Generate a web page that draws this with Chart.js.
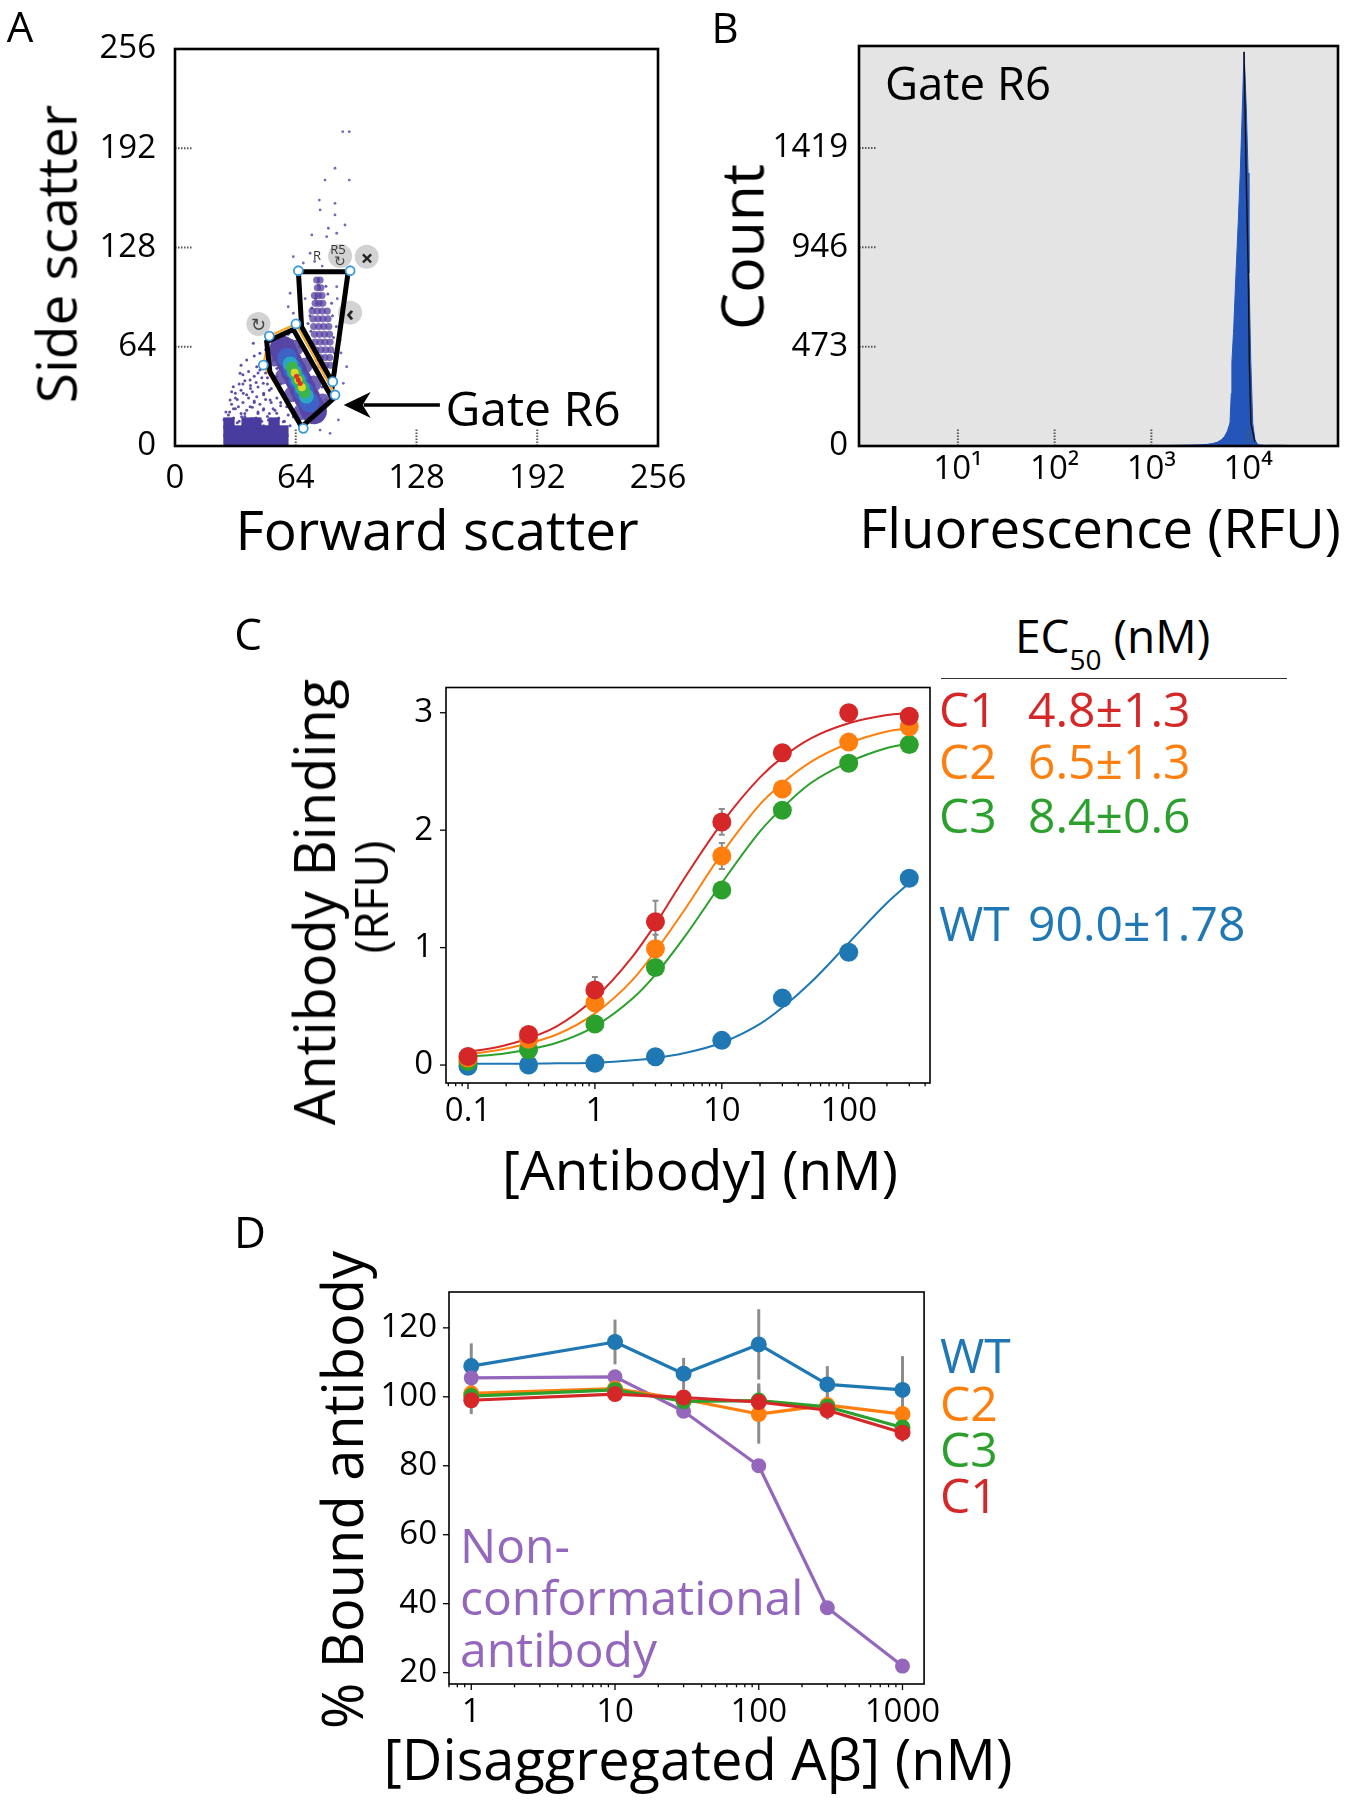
<!DOCTYPE html>
<html><head><meta charset="utf-8">
<script src="https://cdn.jsdelivr.net/npm/chart.js@4.4.1/dist/chart.umd.min.js"></script>
<style>
html,body{margin:0;padding:0;background:#fff;}
#page{position:relative;width:1348px;height:1800px;overflow:hidden;font-family:'Open Sans',sans-serif;}
canvas{position:absolute;}
.t{position:absolute;line-height:1;white-space:nowrap;color:#000;font-family:'Open Sans',sans-serif;}
.c{transform:translate(-50%,-50%);}
.l{transform:translateY(-50%);}
.r{transform:translate(-50%,-50%) rotate(-90deg);}
</style></head>
<body><div id="page">
<canvas id="cA" width="700" height="520" style="left:0;top:0"></canvas>
<canvas id="cB" width="668" height="520" style="left:680px;top:0"></canvas>
<canvas id="cC" width="720" height="560" style="left:230px;top:600px"></canvas>
<canvas id="cD" width="720" height="560" style="left:230px;top:1220px"></canvas>

<div class="t c" style="left:20px;top:26px;font-size:42px">A</div>
<div class="t c" style="left:725px;top:27px;font-size:42px">B</div>
<div class="t c" style="left:248px;top:633px;font-size:44px">C</div>
<div class="t c" style="left:250px;top:1231px;font-size:44px">D</div>

<div class="t r" style="left:55px;top:254px;font-size:55px">Side scatter</div>
<div class="t c" style="left:437px;top:528px;font-size:55px">Forward scatter</div>
<div class="t c" style="left:533px;top:408px;font-size:48px">Gate R6</div>
<div class="t c" style="left:258px;top:324px;font-size:18px;color:#444">↻</div>
<div class="t c" style="left:317px;top:255px;font-size:13px;color:#333">R</div>
<div class="t c" style="left:338px;top:249px;font-size:13px;color:#333">R5</div>
<div class="t c" style="left:340px;top:261px;font-size:14px;color:#444">↻</div>
<div class="t c" style="left:367px;top:257px;font-size:22px;color:#222;font-weight:bold">×</div>
<div class="t c" style="left:350px;top:312px;font-size:22px;color:#222;font-weight:bold">‹</div>

<div class="t r" style="left:741px;top:247px;font-size:59px">Count</div>
<div class="t c" style="left:1100px;top:527px;font-size:54.5px">Fluorescence (RFU)</div>
<div class="t c" style="left:968px;top:83px;font-size:45.5px">Gate R6</div>

<div class="t r" style="left:313px;top:902px;font-size:56px">Antibody Binding</div>
<div class="t r" style="left:370px;top:897px;font-size:46px">(RFU)</div>
<div class="t c" style="left:700px;top:1168px;font-size:55px">[Antibody] (nM)</div>

<div class="t l" style="left:1015px;top:635px;font-size:46px">EC<span style="font-size:28px;position:relative;top:17px">50</span> (nM)</div>
<div style="position:absolute;left:941px;top:678px;width:346px;border-top:1.5px solid #333"></div>
<div class="t l" style="left:939px;top:709px;font-size:48px;color:#d62728">C1</div>
<div class="t l" style="left:1028px;top:709px;font-size:48px;color:#d62728">4.8±1.3</div>
<div class="t l" style="left:939px;top:761px;font-size:48px;color:#ff7f0e">C2</div>
<div class="t l" style="left:1028px;top:761px;font-size:48px;color:#ff7f0e">6.5±1.3</div>
<div class="t l" style="left:939px;top:815px;font-size:48px;color:#2ca02c">C3</div>
<div class="t l" style="left:1028px;top:815px;font-size:48px;color:#2ca02c">8.4±0.6</div>
<div class="t l" style="left:939px;top:923px;font-size:48px;color:#1f77b4">WT</div>
<div class="t l" style="left:1028px;top:923px;font-size:48px;color:#1f77b4">90.0±1.78</div>

<div class="t r" style="left:341px;top:1490px;font-size:56px">% Bound antibody</div>
<div class="t c" style="left:698px;top:1758px;font-size:56px">[Disaggregated Aβ] (nM)</div>
<div class="t l" style="left:940px;top:1355px;font-size:48px;color:#1f77b4">WT</div>
<div class="t l" style="left:940px;top:1403px;font-size:48px;color:#ff7f0e">C2</div>
<div class="t l" style="left:940px;top:1449px;font-size:48px;color:#2ca02c">C3</div>
<div class="t l" style="left:940px;top:1495px;font-size:48px;color:#d62728">C1</div>
<div class="t l" style="left:460px;top:1545px;font-size:48px;color:#9467bd">Non-</div>
<div class="t l" style="left:460px;top:1597px;font-size:48px;color:#9467bd">conformational</div>
<div class="t l" style="left:460px;top:1649px;font-size:48px;color:#9467bd">antibody</div>
</div>
<script>
// ---------------- Panel A data ----------------
const aTickVals = [0, 64, 128, 192, 256];
const aTickLabels = ['0', '64', '128', '192', '256'];
const tailX = [88.9,92.4,84.8,79.5,92.4,76.5,84.8,76.9,84.8,81.3,90.1,72.5,80.4,85.7,62.7,71.6,61,60,62.7,58.3,85.7,88.4,87.5,91,89.2,86.6,76.9,82.2,68,74,78,66,69,64,86,88,85];
const tailY = [202.7,202.7,179.1,171.5,171.5,158.6,156.5,152.2,149,140.4,142.5,136.1,135,137.2,122.1,124.3,98.5,89.8,85.6,72.7,102.7,85.6,68.4,51.1,40.4,16.8,10.3,8.2,118,119,116,104,95,80,95,60,48];
const cloudX = [41.5,45,38,43.3,34.5,39.8,46.8,30.9,36.2,43.3,29.2,50.4,33.6,39.8,46.8,53.9,28.3,35.3,42.4,49.5,57.4,52.1,53.9,56.5,59.2,62.7,48,44,40,47,32,37,31,44,52,56,49,51,36,42,27,33,40,47,55,61,26,30,35,42,55,58];
const cloudY = [66.2,59.8,55.5,51.1,46.9,42.6,40.4,38.2,34,31.8,29.7,29.7,25.3,25.3,23.2,21.1,20,18.9,17.8,16.8,15.7,55.5,44.7,34,25.3,18.9,62,47,37,34,31,21,24,21,24,28,44,37,40,28,22,15,14,13,12,13,17,35,52,58,60,50];
const cloud2X = [28,31,34,37,40,43,46,49,52,55,58,29,32,35,38,41,44,47,50,53,56,30,33,36,39,42,45,48,51,54,32,35,38,41,44,47,50,34,37,40,43,46,49,36,39,42,45,48];
const cloud2Y = [16,18,16,19,16,18,16,19,17,18,16,22,24,21,23,25,22,24,21,23,26,27,30,28,31,29,27,30,28,31,34,36,33,35,38,33,36,40,42,39,41,44,40,46,48,45,49,47];
const gateFillX = [52,57,60,54,56,60,66,72,77,80,78,75,70,66,62,58,63,76,72];
const gateFillY = [62,69,72,50,40,20,14,16,22,30,38,48,57,64,68,45,30,31,44];
const colX = [75.1,76.9,75.5,77.3,73.9,75.9,77.9,74.3,76.3,78.3,72.7,75.4,78.0,80.7,73.1,75.8,78.4,81.1,73.5,76.2,78.8,81.5,73.9,76.6,79.2,81.9,74.2,76.9,79.5,82.2,74.6,77.3,79.9,82.6,77.0,79.5,82.0,77.4,79.9,82.4];
const colY = [107,107,102,102,97,97,97,92,92,92,87,87,87,87,82,82,82,82,77,77,77,77,72,72,72,72,67,67,67,67,62,62,62,62,57,57,57,52,52,52];
const colEdgeX = [71.5,83.5,72,84,73,84.5,74.5,83,76,80,75,79,70.5,85.5,72.5,81];
const colEdgeY = [84,84,74,70,64,60,95,92,104,103,55,49,79,77,89,98];
const purpleCoreX = [57.06,58.24,60.61,62.98,65.35,67.72,70.09,72.46,73.64];
const purpleCoreY = [62.74,59.86,54.09,48.33,42.56,36.80,31.03,25.26,22.38];
const purpleWideX = [63.93,52.55,68.67,57.29,73.41,62.03,78.15,66.77];
const purpleWideY = [63.32,56.40,51.79,44.87,40.26,33.34,28.72,21.80];
const blueCoreX = [59.43,62.39,65.35,68.31,71.27];
const blueCoreY = [56.97,49.77,42.56,35.35,28.15];
const cyanCoreX = [61.09,63.22,65.35,67.48,69.61];
const cyanCoreY = [52.94,47.75,42.56,37.37,32.18];
const greenCoreX = [62.03,63.69,65.35,67.01,68.67];
const greenCoreY = [50.63,46.6,42.56,38.52,34.49];
const yellowCoreX = [63.45,65.35,67.25];
const yellowCoreY = [47.17,42.56,37.95];
const redCoreX = [64.4,65.35,66.3];
const redCoreY = [44.9,42.56,40.3];
const blockX = [28.6,33.4,38.2,42.9,47.7,52.5,57.2,28.6,33.4,38.2,42.9,47.7,52.5,57.2,28.6,38.2,42.9,52.5];
const blockY = [3.9,3.9,3.9,3.9,3.9,3.9,3.9,9.7,9.7,9.7,9.7,9.7,9.7,9.7,14.8,14.8,14.8,14.8];
const r6GateX = [48.6,62.7,83.6,67.1,50.3,48.6];
const r6GateY = [67.2,75.2,30.1,12.4,47.9,67.2];
const r5GateX = [65.4,91.8,83.6,67.1,65.4];
const r5GateY = [112.4,112.4,40.8,76.9,112.4];
const orangeGateX = [50,64.1,84.8,68,46.8,50];
const orangeGateY = [70.9,78.7,32.9,11.4,52.2,70.9];
const handleX = [50,64.1,65.4,92.8,83.6,84.8,46.8,68];
const handleY = [70.9,78.7,113,113,41.5,32.9,52.2,11.4];
const iconX = [44.2,87.5,101.6,92.8];
const iconY = [78.7,122.5,122.1,86];
const arrowTail = [140.4, 26.4];
const arrowTip = [89.4, 26.4];

// ---------------- Panel B data ----------------
const bXTickVals = [10, 100, 1000, 10000];
const bXTickLabels = ['10¹', '10²', '10³', '10⁴'];
const bYTickVals = [0, 473, 946, 1419];
const bYTickLabels = ['0', '473', '946', '1419'];
const histX = [300,600,1000,1500,2000,2600,3200,3800,4300,4800,5300,5700,6100,6500,6700,6800,7100,7500,7900,8300,8700,9080,9600,10000,10200,10650,11170,11780,12650,15000,20000,30000,50000];
const histY = [0,2,3,3,4,5,6,8,12,18,30,45,70,110,250,400,560,824,1060,1300,1590,1877,1600,1300,824,410,108,28,6,3,4,2,0];
const edgeX = [9080,9550,10050,10300,10700,11750];
const edgeY = [1877,1300,810,390,108,20];

// ---------------- Panel C data ----------------
const cXTickVals = [0.1, 1, 10, 100];
const cXTickLabels = ['0.1', '1', '10', '100'];
const cYTickVals = [0, 1, 2, 3];
const cYTickLabels = ['0', '1', '2', '3'];
const concC = [0.1, 0.3, 1, 3, 10, 30, 100, 300];
const c1Bind = [0.073, 0.26, 0.64, 1.22, 2.07, 2.66, 3.00, 2.97];
const c2Bind = [0.06, 0.22, 0.53, 0.99, 1.78, 2.35, 2.75, 2.88];
const c3Bind = [0.03, 0.13, 0.35, 0.83, 1.49, 2.17, 2.57, 2.73];
const wtBind = [-0.01, 0.00, 0.015, 0.07, 0.21, 0.57, 0.96, 1.59];
const c1BindErr = [0.02, 0.03, 0.11, 0.18, 0.11, 0.03, 0.03, 0.03];
const c2BindErr = [0.02, 0.03, 0.05, 0.12, 0.11, 0.03, 0.03, 0.03];
const c3BindErr = [0.02, 0.02, 0.03, 0.04, 0.04, 0.03, 0.03, 0.03];
const wtBindErr = [0.01, 0.01, 0.01, 0.02, 0.02, 0.03, 0.04, 0.03];
const fitConc = [0.1, 0.2, 0.5, 1, 2, 3, 5, 10, 20, 30, 50, 100, 200, 300];
const c1Fit = [0.11, 0.17, 0.33, 0.57, 0.93, 1.20, 1.58, 2.06, 2.45, 2.62, 2.78, 2.91, 2.98, 3.00];
const c2Fit = [0.09, 0.14, 0.26, 0.44, 0.73, 0.97, 1.31, 1.80, 2.22, 2.40, 2.58, 2.74, 2.84, 2.87];
const c3Fit = [0.07, 0.10, 0.19, 0.33, 0.57, 0.77, 1.08, 1.55, 1.99, 2.19, 2.40, 2.58, 2.70, 2.74];
const wtFit = [0.01, 0.01, 0.015, 0.02, 0.04, 0.06, 0.10, 0.19, 0.35, 0.49, 0.70, 1.04, 1.38, 1.55];

// ---------------- Panel D data ----------------
const dXTickVals = [1, 10, 100, 1000];
const dXTickLabels = ['1', '10', '100', '1000'];
const dYTickVals = [20, 40, 60, 80, 100, 120];
const dYTickLabels = ['20', '40', '60', '80', '100', '120'];
const concD = [1, 10, 30, 100, 300, 1000];
const wtBound = [108.9, 115.9, 106.7, 115.2, 103.6, 102.0];
const ncBound = [105.5, 105.8, 95.8, 80.0, 38.8, 21.9];
const c2Bound = [101.0, 102.4, 99.3, 95.0, 97.6, 95.0];
const c3Bound = [100.2, 102.0, 98.7, 98.9, 97.1, 91.1];
const c1Bound = [99.0, 100.8, 99.8, 98.5, 96.1, 89.6];
const wtBoundErr = [6.6, 6.5, 4.6, 10.2, 5.3, 9.8];
const ncBoundErr = [1, 1, 1, 1, 1, 1];
const c2BoundErr = [3, 2, 2, 8.6, 3, 2];
const c3BoundErr = [3, 2, 2, 5, 2, 2];
const c1BoundErr = [4, 2, 2, 4, 2.7, 2.6];

// ---------------- helpers ----------------
const pts = (xs, ys) => xs.map((x, i) => ({ x: x, y: ys[i] }));
const RED = '#d62728', ORANGE = '#ff7f0e', GREEN = '#2ca02c', BLUE = '#1f77b4', PURPLE = '#9467bd';
Chart.defaults.font.family = "'Open Sans', sans-serif";
Chart.defaults.color = '#000';

const deco = {
  id: 'deco',
  beforeDatasetsDraw(chart, args, o) {
    const ctx = chart.ctx, a = chart.chartArea, sx = chart.scales.x, sy = chart.scales.y;
    ctx.save();
    if (o.bg) { ctx.fillStyle = o.bg; ctx.fillRect(a.left, a.top, a.right - a.left, a.bottom - a.top); }
    chart.data.datasets.forEach(ds => {
      if (!ds.errorBars) return;
      ctx.strokeStyle = o.errColor || '#888';
      ctx.lineWidth = o.errWidth || 2;
      ds.data.forEach((p, i) => {
        const e = ds.errorBars[i]; if (!e) return;
        const x = sx.getPixelForValue(p.x);
        const y1 = sy.getPixelForValue(p.y + e), y2 = sy.getPixelForValue(p.y - e);
        ctx.beginPath(); ctx.moveTo(x, y1); ctx.lineTo(x, y2); ctx.stroke();
        if (o.cap) {
          ctx.beginPath();
          ctx.moveTo(x - o.cap, y1); ctx.lineTo(x + o.cap, y1);
          ctx.moveTo(x - o.cap, y2); ctx.lineTo(x + o.cap, y2); ctx.stroke();
        }
      });
    });
    ctx.restore();
  },
  afterDatasetsDraw(chart, args, o) {
    const ctx = chart.ctx, a = chart.chartArea, sx = chart.scales.x, sy = chart.scales.y;
    ctx.save();
    if (o.dotted) {
      ctx.strokeStyle = '#555'; ctx.lineWidth = 2; ctx.setLineDash([1.5, 1.5]);
      sx.ticks.forEach(t => {
        const x = sx.getPixelForValue(t.value);
        if (x - a.left < 4 || a.right - x < 4) return;
        ctx.beginPath(); ctx.moveTo(x, a.bottom); ctx.lineTo(x, a.bottom - o.dotted); ctx.stroke();
      });
      sy.ticks.forEach(t => {
        const y = sy.getPixelForValue(t.value);
        if (y - a.top < 4 || a.bottom - y < 4) return;
        ctx.beginPath(); ctx.moveTo(a.left, y); ctx.lineTo(a.left + o.dotted, y); ctx.stroke();
      });
      ctx.setLineDash([]);
    }
    if (o.arrow) {
      const x1 = sx.getPixelForValue(o.arrow.from[0]), y1 = sy.getPixelForValue(o.arrow.from[1]);
      const x2 = sx.getPixelForValue(o.arrow.to[0]), y2 = sy.getPixelForValue(o.arrow.to[1]);
      ctx.strokeStyle = '#000'; ctx.fillStyle = '#000'; ctx.lineWidth = 3.5;
      ctx.beginPath(); ctx.moveTo(x1, y1); ctx.lineTo(x2 + 20, y2); ctx.stroke();
      ctx.beginPath(); ctx.moveTo(x2, y2); ctx.lineTo(x2 + 27, y2 - 13); ctx.lineTo(x2 + 19, y2);
      ctx.lineTo(x2 + 27, y2 + 13); ctx.closePath(); ctx.fill();
    }
    if (o.outTicks) {
      ctx.strokeStyle = '#000'; ctx.lineWidth = 1.3;
      sy.ticks.forEach(t => {
        const y = sy.getPixelForValue(t.value);
        ctx.beginPath(); ctx.moveTo(a.left, y); ctx.lineTo(a.left - o.outTicks, y); ctx.stroke();
      });
      const lo = Math.floor(Math.log10(sx.min)), hi = Math.ceil(Math.log10(sx.max));
      for (let e = lo; e <= hi; e++) {
        for (let m = 1; m <= 9; m++) {
          const v = m * Math.pow(10, e);
          if (v < sx.min || v > sx.max) continue;
          const x = sx.getPixelForValue(v);
          const len = m === 1 ? o.outTicks : o.outTicks * 0.55;
          ctx.beginPath(); ctx.moveTo(x, a.bottom); ctx.lineTo(x, a.bottom + len); ctx.stroke();
        }
      }
    }
    ctx.strokeStyle = '#000'; ctx.lineWidth = o.box || 1.5;
    ctx.strokeRect(a.left, a.top, a.right - a.left, a.bottom - a.top);
    ctx.restore();
  }
};
Chart.register(deco);

function axis(type, min, max, vals, labels, pos, pad, fit) {
  return {
    type: type, min: min, max: max, position: pos,
    grid: { display: false, drawTicks: false },
    border: { display: false },
    afterBuildTicks: s => { s.ticks = vals.map(v => ({ value: v })); },
    afterFit: s => { if (pos === 'left') s.width = fit; else s.height = fit; },
    ticks: {
      autoSkip: false, maxRotation: 0, minRotation: 0, padding: pad,
      font: { size: 33 }, color: '#000',
      callback: (v, i) => labels[i]
    }
  };
}
function baseOpts(pad, xs, ys, decoOpts) {
  return {
    responsive: false, animation: false, devicePixelRatio: 1,
    layout: { padding: pad, autoPadding: false },
    plugins: { legend: { display: false }, tooltip: { enabled: false }, deco: decoOpts },
    events: [],
    scales: { x: xs, y: ys }
  };
}
function scat(xs, ys, color, r, order, extra) {
  return Object.assign({
    data: pts(xs, ys), showLine: false, pointRadius: r, pointBackgroundColor: color,
    pointBorderWidth: 0, borderColor: color, backgroundColor: color, order: order
  }, extra || {});
}
function poly(xs, ys, color, w, order) {
  return {
    data: pts(xs, ys), showLine: true, pointRadius: 0, borderColor: color, borderWidth: w,
    fill: false, tension: 0, order: order, borderJoinStyle: 'miter', borderCapStyle: 'round'
  };
}

// ---------------- Chart A ----------------
new Chart(document.getElementById('cA'), {
  type: 'line',
  data: { datasets: [
    scat(handleX, handleY, '#ffffff', 4.5, 0, { pointBorderWidth: 1.8, pointBorderColor: '#3a9ad9' }),
    poly(r6GateX, r6GateY, '#000', 5, 1),
    poly(r5GateX, r5GateY, '#000', 5, 1),
    poly(orangeGateX, orangeGateY, '#f5a623', 2.2, 2),
    scat(iconX, iconY, 'rgba(205,205,205,0.9)', 12, 3),
    scat(redCoreX, redCoreY, '#e0301e', 2.5, 4),
    scat(yellowCoreX, yellowCoreY, '#d8d82a', 4, 5),
    scat(greenCoreX, greenCoreY, '#3cb44b', 6, 6),
    scat(cyanCoreX, cyanCoreY, '#2aa6c4', 7.5, 7),
    scat(blueCoreX, blueCoreY, '#3f62c6', 10, 8),
    scat(purpleCoreX, purpleCoreY, '#5846a6', 13, 9),
    scat(purpleWideX, purpleWideY, 'rgba(88,70,166,0.85)', 8, 10),
    scat(colX, colY, 'rgba(84,62,160,0.75)', 3.6, 11),
    scat(colEdgeX, colEdgeY, 'rgba(84,62,160,0.85)', 1.5, 11),
    scat(tailX, tailY, 'rgba(96,78,170,0.85)', 1.4, 12),
    scat(cloudX, cloudY, 'rgba(80,60,160,0.9)', 1.5, 12),
    scat(cloud2X, cloud2Y, 'rgba(80,60,160,0.9)', 1.5, 12),
    scat(gateFillX, gateFillY, 'rgba(80,60,160,0.9)', 1.5, 12),
    scat(blockX, blockY, '#483c9e', 8, 13, { pointStyle: 'rect' })
  ] },
  options: baseOpts({ left: 55, top: 49, right: 42, bottom: 14 },
    axis('linear', 0, 256, aTickVals, aTickLabels, 'bottom', 13, 60),
    axis('linear', 0, 256, aTickVals, aTickLabels, 'left', 19, 120),
    { box: 2.6, dotted: 18, arrow: { from: arrowTail, to: arrowTip } })
});

// ---------------- Chart B ----------------
new Chart(document.getElementById('cB'), {
  type: 'line',
  data: { datasets: [
    { data: pts(edgeX, edgeY), showLine: true, pointRadius: 0, borderColor: '#111', borderWidth: 1.4, tension: 0, order: 0 },
    { data: pts(histX, histY), showLine: true, pointRadius: 0, borderColor: '#2456b9', borderWidth: 1,
      backgroundColor: '#2456b9', fill: 'origin', tension: 0, order: 1 }
  ] },
  options: baseOpts({ left: 59, top: 46, right: 10, bottom: 14 },
    axis('logarithmic', 0.95, 85000, bXTickVals, bXTickLabels, 'bottom', 4, 60),
    axis('linear', 0, 1905, bYTickVals, bYTickLabels, 'left', 11, 120),
    { box: 2.6, dotted: 17, bg: '#e4e4e4' })
});

// ---------------- Chart C ----------------
function curve(ys, color, order) {
  return { data: pts(fitConc, ys), showLine: true, pointRadius: 0, borderColor: color, borderWidth: 2,
    cubicInterpolationMode: 'monotone', fill: false, order: order };
}
new Chart(document.getElementById('cC'), {
  type: 'line',
  data: { datasets: [
    scat(concC, c1Bind, RED, 9.5, 0, { errorBars: c1BindErr }),
    scat(concC, c2Bind, ORANGE, 9.5, 1, { errorBars: c2BindErr }),
    scat(concC, c3Bind, GREEN, 9.5, 2, { errorBars: c3BindErr }),
    scat(concC, wtBind, BLUE, 9.5, 3, { errorBars: wtBindErr }),
    curve(c1Fit, RED, 4), curve(c2Fit, ORANGE, 5), curve(c3Fit, GREEN, 6), curve(wtFit, BLUE, 7)
  ] },
  options: baseOpts({ left: 96, top: 87.5, right: 20, bottom: 17 },
    axis('logarithmic', 0.0671, 437, cXTickVals, cXTickLabels, 'bottom', 9, 60),
    axis('linear', -0.153, 3.215, cYTickVals, cYTickLabels, 'left', 13, 120),
    { box: 1.6, outTicks: 6, errColor: '#8c8c8c', errWidth: 2, cap: 3 })
});

// ---------------- Chart D ----------------
function dLine(ys, errs, color, r, order) {
  return { data: pts(concD, ys), showLine: true, pointRadius: r, pointBackgroundColor: color, pointBorderWidth: 0,
    borderColor: color, backgroundColor: color, borderWidth: 3.2, tension: 0, fill: false, order: order,
    errorBars: errs, borderJoinStyle: 'round' };
}
new Chart(document.getElementById('cD'), {
  type: 'line',
  data: { datasets: [
    dLine(c1Bound, c1BoundErr, RED, 8, 0),
    dLine(c3Bound, c3BoundErr, GREEN, 8, 1),
    dLine(c2Bound, c2BoundErr, ORANGE, 8, 2),
    dLine(ncBound, ncBoundErr, PURPLE, 7.5, 3),
    dLine(wtBound, wtBoundErr, BLUE, 8, 4)
  ] },
  options: baseOpts({ left: 99, top: 72, right: 17, bottom: 36 },
    axis('logarithmic', 0.718, 1413, dXTickVals, dXTickLabels, 'bottom', 9, 60),
    axis('linear', 16.7, 130.4, dYTickVals, dYTickLabels, 'left', 12, 120),
    { box: 1.6, outTicks: 6, errColor: '#8c8c8c', errWidth: 3 })
});
</script>
</body></html>
